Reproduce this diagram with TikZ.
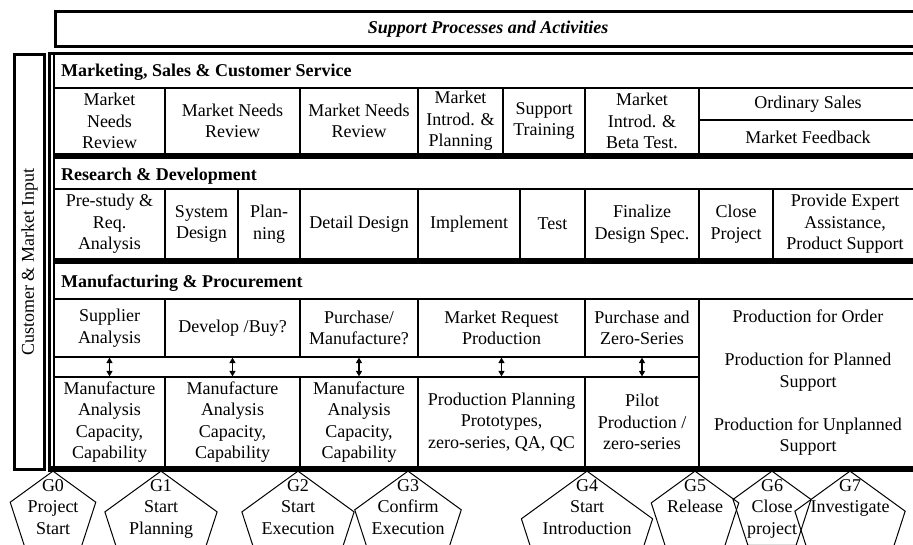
\documentclass[tikz,border=0pt]{standalone}
\usepackage{fontspec}
\setmainfont{Liberation Serif}
\usetikzlibrary{arrows.meta}
\usetikzlibrary{shapes}

\begin{document}
\begin{tikzpicture}[x = 1pt, y = -1pt, font = \fontsize{18}{21.5}\selectfont]
	\tikzstyle{cellStyle}=[draw, line width = 1.2pt, inner sep = 0pt, align = center]
	\tikzstyle{headStyle}=[anchor = west, inner sep = 0pt, font = \fontsize{18}{21.5}\selectfont\bfseries]
	\tikzstyle{barStyle}=[line width = 5.5pt]
	\tikzstyle{gateStyle}=[draw, line width = 1pt, regular polygon, regular polygon sides = 5, inner sep = 0pt, anchor = corner 1]
	\tikzstyle{gateText}=[anchor = north, inner sep = 0pt, align = center]
	\tikzstyle{linkStyle}=[{Triangle[length = 5.5pt, width = 6pt]}-{Triangle[length = 5.5pt, width = 6pt]}, line width = 1.2pt]
	\useasboundingbox (0,0) rectangle (913,544);
	\clip (0,0) rectangle (913,544);
	% support processes
	\node[draw, line width = 3pt, inner sep = 0pt, minimum width = 866, minimum height = 34.5, font = \fontsize{18}{21.5}\selectfont\bfseries\itshape] (support) at (488,28.75) {Support Processes and Activities};
	% customer input
	\node[draw, line width = 3pt, inner sep = 0pt, minimum width = 415, minimum height = 30, rotate = 90] (customer) at (29.5,262) {Customer \& Market Input};
	% marketing
	\node[headStyle] (mkhead) at (61,72) {Marketing, Sales \& Customer Service};
	\node[cellStyle, minimum width = 111, minimum height = 66] (mk1) at (109.5,121) {Market\\Needs\\Review};
	\node[cellStyle, minimum width = 135, minimum height = 66] (mk2) at (232.5,121) {Market Needs\\Review};
	\node[cellStyle, minimum width = 118, minimum height = 66] (mk3) at (359,121) {Market Needs\\Review};
	\node[cellStyle, minimum width = 85, minimum height = 66] (mk4) at (460.5,121) {Market\\Introd. \&\\Planning};
	\node[cellStyle, minimum width = 82, minimum height = 66] (mk5) at (544,121) {Support\\Training};
	\node[cellStyle, minimum width = 114, minimum height = 66] (mk6) at (642,121) {Market\\Introd. \&\\Beta Test.};
	\node[cellStyle, minimum width = 218, minimum height = 32] (mk7) at (808,104) {Ordinary Sales};
	\node[cellStyle, minimum width = 218, minimum height = 34] (mk8) at (808,137) {Market Feedback};
	% research
	\node[headStyle] (rdhead) at (61,176) {Research \& Development};
	\node[cellStyle, minimum width = 111, minimum height = 70] (rd1) at (109.5,224) {Pre-study \&\\Req.\\Analysis};
	\node[cellStyle, minimum width = 73, minimum height = 70] (rd2) at (201.5,224) {System\\Design};
	\node[cellStyle, minimum width = 62, minimum height = 70] (rd3) at (269,224) {Plan-\\ning};
	\node[cellStyle, minimum width = 118, minimum height = 70] (rd4) at (359,224) {Detail Design};
	\node[cellStyle, minimum width = 102, minimum height = 70] (rd5) at (469,224) {Implement};
	\node[cellStyle, minimum width = 65, minimum height = 70] (rd6) at (552.5,224) {Test};
	\node[cellStyle, minimum width = 114, minimum height = 70] (rd7) at (642,224) {Finalize\\Design Spec.};
	\node[cellStyle, minimum width = 74, minimum height = 70] (rd8) at (736,224) {Close\\Project};
	\node[cellStyle, minimum width = 144, minimum height = 70] (rd9) at (845,224) {Provide Expert\\Assistance,\\Product Support};
	% manufacturing
	\node[headStyle] (mfhead) at (61,283) {Manufacturing \& Procurement};
	\node[cellStyle, minimum width = 111, minimum height = 58] (mf1) at (109.5,328) {Supplier\\Analysis};
	\node[cellStyle, minimum width = 135, minimum height = 58] (mf2) at (232.5,328) {Develop /Buy?};
	\node[cellStyle, minimum width = 118, minimum height = 58] (mf3) at (359,328) {Purchase/\\Manufacture?};
	\node[cellStyle, minimum width = 167, minimum height = 58] (mf4) at (501.5,328) {Market Request\\Production};
	\node[cellStyle, minimum width = 114, minimum height = 58] (mf5) at (642,328) {Purchase and\\Zero-Series};
	\node[cellStyle, minimum width = 218, minimum height = 168] (mf6) at (808,383) {Production for Order\\[21.5pt]Production for Planned\\Support\\[21.5pt]Production for Unplanned\\Support};
	\node[cellStyle, minimum width = 111, minimum height = 90] (pp1) at (109.5,422) {Manufacture\\Analysis\\Capacity,\\Capability};
	\node[cellStyle, minimum width = 135, minimum height = 90] (pp2) at (232.5,422) {Manufacture\\Analysis\\Capacity,\\Capability};
	\node[cellStyle, minimum width = 118, minimum height = 90] (pp3) at (359,422) {Manufacture\\Analysis\\Capacity,\\Capability};
	\node[cellStyle, minimum width = 167, minimum height = 90] (pp4) at (501.5,422) {Production Planning\\Prototypes,\\zero-series, QA, QC};
	\node[cellStyle, minimum width = 114, minimum height = 90] (pp5) at (642,422) {Pilot\\Production /\\zero-series};
	\draw[line width = 1.2pt] (54,357) -- (699,357);
	\draw[line width = 1.2pt] (54,377) -- (699,377);
	\draw[linkStyle] (mf1) -- (pp1);
	\draw[linkStyle] (mf2) -- (pp2);
	\draw[linkStyle] (mf3) -- (pp3);
	\draw[linkStyle] (mf4) -- (pp4);
	\draw[linkStyle] (mf5) -- (pp5);
	% frame
	\draw[line width = 1.2pt] (54,53.5) -- (54,469);
	\draw[line width = 2.5pt] (49.5,471) -- (49.5,53.5);
	\draw[line width = 3pt] (48.25,53.5) -- (920,53.5);
	\draw[barStyle] (53,156) -- (920,156);
	\draw[barStyle] (53,261.5) -- (920,261.5);
	\draw[barStyle] (48.25,469) -- (920,469);
	% gates
	\node[gateStyle, minimum size = 90] (g0) at (53,470.5) {};
	\node[gateStyle, minimum size = 118] (g1) at (161,470.5) {};
	\node[gateStyle, minimum size = 118] (g2) at (298,470.5) {};
	\node[gateStyle, minimum size = 112] (g3) at (408,470.5) {};
	\node[gateStyle, minimum size = 138] (g4) at (587,470.5) {};
	\node[gateStyle, minimum size = 92] (g5) at (695,470.5) {};
	\node[gateStyle, minimum size = 82] (g6) at (772,470.5) {};
	\node[gateStyle, minimum size = 116] (g7) at (850,470.5) {};
	\node[gateText] (g0text) at (53,479) {G0\\Project\\Start};
	\node[gateText] (g1text) at (161,479) {G1\\Start\\Planning};
	\node[gateText] (g2text) at (298,479) {G2\\Start\\Execution};
	\node[gateText] (g3text) at (408,479) {G3\\Confirm\\Execution};
	\node[gateText] (g4text) at (587,479) {G4\\Start\\Introduction};
	\node[gateText] (g5text) at (695,479) {G5\\Release};
	\node[gateText] (g6text) at (772,479) {G6\\Close\\project};
	\node[gateText] (g7text) at (850,479) {G7\\Investigate};
\end{tikzpicture}
\end{document}
